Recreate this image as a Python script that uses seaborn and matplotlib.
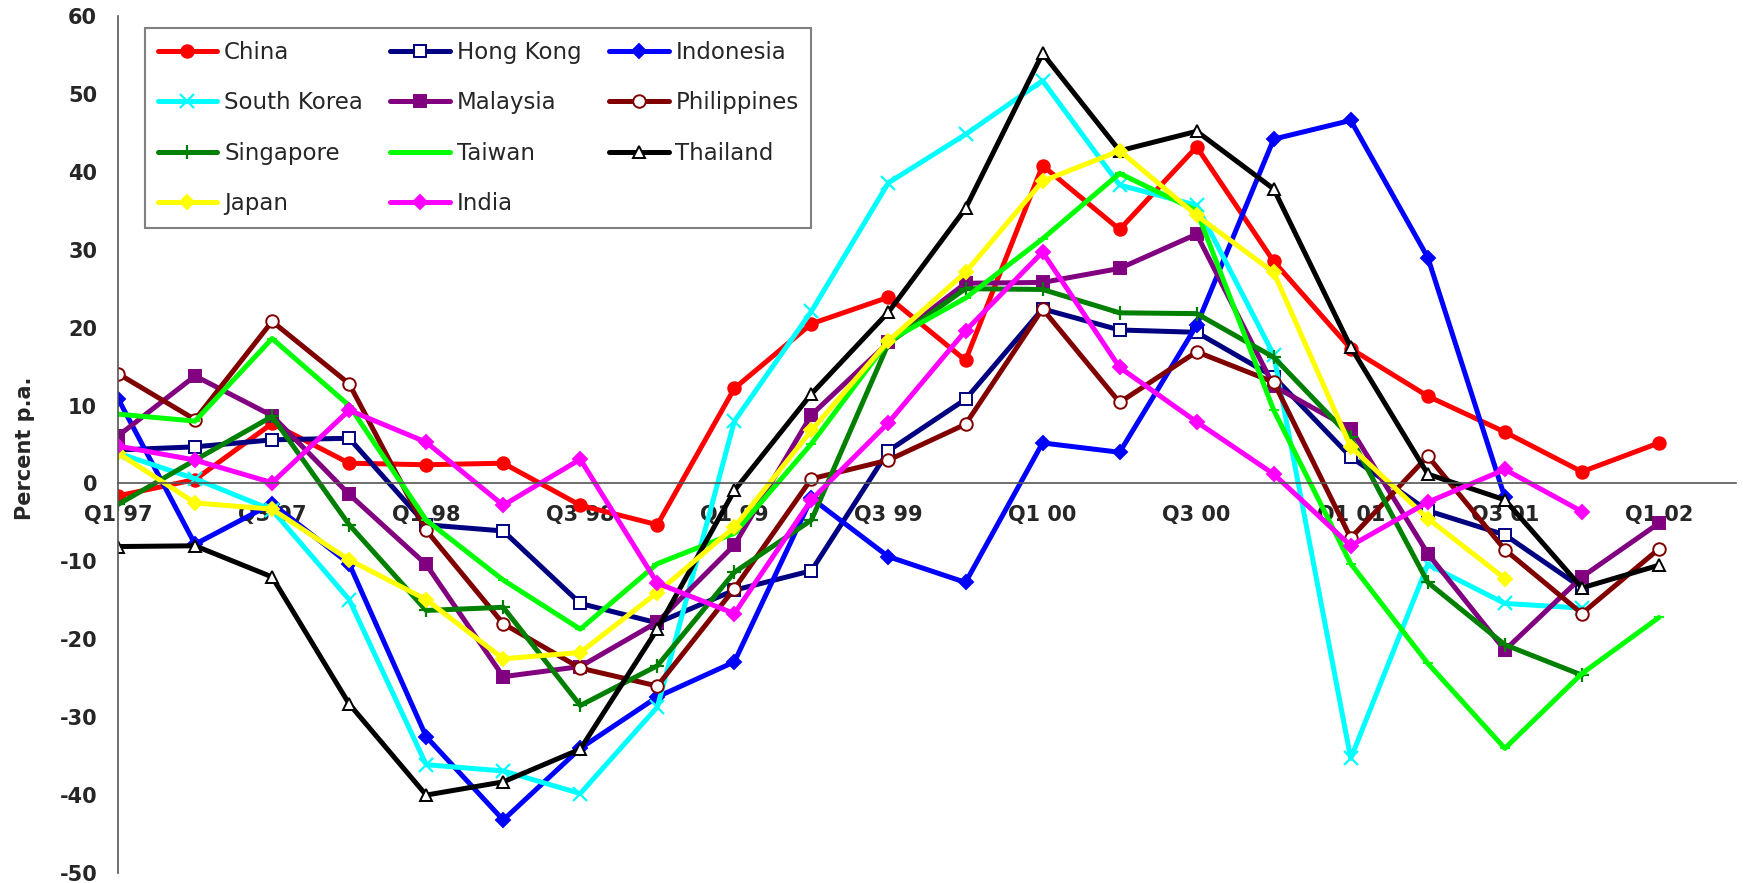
import numpy as np
import matplotlib
matplotlib.use('Agg')
import matplotlib.pyplot as plt
import seaborn as sns

# quarterly data, Q1 1997 .. Q1 2002 (percent p.a.)
quarters = ['Q1 97', 'Q2 97', 'Q3 97', 'Q4 97', 'Q1 98', 'Q2 98', 'Q3 98', 'Q4 98',
            'Q1 99', 'Q2 99', 'Q3 99', 'Q4 99', 'Q1 00', 'Q2 00', 'Q3 00', 'Q4 00',
            'Q1 01', 'Q2 01', 'Q3 01', 'Q4 01', 'Q1 02']
nan = np.nan

china = [-1.6, 0.5, 7.7, 2.6, 2.4, 2.6, -2.8, -5.3, 12.2, 20.5, 23.9, 15.8,
         40.8, 32.6, 43.2, 28.5, 17.3, 11.2, 6.6, 1.5, 5.2]
hong_kong = [4.3, 4.7, 5.6, 5.8, -5.3, -6.1, -15.4, -17.9, -13.7, -11.2, 4.2, 10.8,
             22.4, 19.7, 19.4, 13.7, 3.4, -3.5, -6.6, -13.4, nan]
indonesia = [10.9, -7.8, -2.6, -10.3, -32.5, -43.2, -34.0, -27.4, -22.9, -1.9, -9.4, -12.7,
             5.2, 4.0, 20.3, 44.2, 46.6, 29.0, -1.8, nan, nan]
south_korea = [3.9, 0.6, -3.4, -14.9, -36.1, -36.9, -39.8, -28.7, 8.0, 22.1, 38.6, 44.8,
               51.7, 38.3, 35.7, 16.5, -35.3, -10.4, -15.4, -16.0, nan]
malaysia = [6.1, 13.8, 8.7, -1.4, -10.4, -24.8, -23.5, -17.8, -7.9, 8.8, 18.1, 25.7,
            25.8, 27.6, 32.0, 12.5, 7.0, -9.0, -21.4, -12.0, -5.1]
philippines = [14.1, 8.2, 20.8, 12.8, -6.0, -18.0, -23.7, -26.0, -13.5, 0.6, 3.0, 7.6,
               22.4, 10.4, 16.9, 13.0, -7.0, 3.5, -8.5, -16.7, -8.4]
singapore = [-2.7, 3.0, 8.6, -5.3, -16.3, -15.9, -28.5, -23.4, -11.4, -4.7, 18.0, 25.0,
             24.9, 21.9, 21.8, 16.2, 5.9, -12.7, -20.7, -24.6, nan]
taiwan = [8.9, 8.0, 18.6, 10.0, -4.7, -12.4, -18.7, -10.3, -6.4, 5.1, 18.3, 23.8,
          31.4, 39.8, 35.0, 9.4, -10.3, -23.1, -34.0, -24.4, -17.2]
thailand = [-8.1, -8.0, -12.0, -28.3, -40.0, -38.3, -34.1, -18.7, -0.9, 11.5, 22.0, 35.3,
            55.2, 42.7, 45.2, 37.8, 17.5, 1.2, -2.1, -13.4, -10.5]
japan = [3.9, -2.5, -3.3, -9.8, -14.9, -22.5, -21.7, -14.0, -5.6, 6.8, 18.3, 27.1,
         38.8, 42.7, 34.4, 27.1, 4.7, -4.5, -12.2, nan, nan]
india = [4.8, 3.0, 0.1, 9.4, 5.3, -2.8, 3.1, -12.8, -16.7, -2.1, 7.8, 19.6,
         29.7, 14.9, 7.9, 1.2, -8.0, -2.4, 1.8, -3.6, nan]

# name, values, line colour, marker, marker face
series = [
    ('China', china, '#FF0000', 'o', '#FF0000'),
    ('Hong Kong', hong_kong, '#000080', 's', 'white'),
    ('Indonesia', indonesia, '#0000FF', 'D', '#0000FF'),
    ('South Korea', south_korea, '#00FFFF', 'x', '#00FFFF'),
    ('Malaysia', malaysia, '#800080', 's', '#800080'),
    ('Philippines', philippines, '#800000', 'o', 'white'),
    ('Singapore', singapore, '#008000', '+', '#008000'),
    ('Taiwan', taiwan, '#00FF00', '_', '#00FF00'),
    ('Thailand', thailand, '#000000', '^', 'white'),
    ('Japan', japan, '#FFFF00', 'D', '#FFFF00'),
    ('India', india, '#FF00FF', 'D', '#FF00FF'),
]

sns.set_style('white')
plt.rcParams['font.family'] = ['DejaVu Sans']
plt.rcParams['axes.unicode_minus'] = False

fig = plt.figure(figsize=(17.43, 8.83), dpi=100)
ax = fig.add_axes([118 / 1743, 1 - 873 / 883, 1618 / 1743, 857 / 883])

x = np.arange(len(quarters))
for name, vals, col, mk, face in series:
    ms = 9 if mk in ('o', 's', '^') else 7.5
    if mk in ('x', '+'):
        ms = 10
    sns.lineplot(x=x, y=np.array(vals), ax=ax, color=col, linewidth=3.6,
                 marker=mk, markersize=ms, markerfacecolor=face,
                 markeredgecolor=col, markeredgewidth=1.6 if mk in ('x', '+') else 1.4,
                 label=name, errorbar=None, legend=True)

ax.set_xlim(0, 21)
ax.set_ylim(-50, 60)

for s in ['top', 'right']:
    ax.spines[s].set_visible(False)
ax.spines['bottom'].set_position(('data', 0))
ax.spines['bottom'].set_color('#555555')
ax.spines['left'].set_color('#555555')
ax.spines['bottom'].set_linewidth(1.2)
ax.spines['left'].set_linewidth(1.2)

ax.set_xticks(range(22))
ax.set_xticklabels([q if i % 2 == 0 else '' for i, q in enumerate(quarters)] + [''])
ax.set_yticks(range(-50, 61, 10))
ax.tick_params(axis='x', direction='inout', length=9.5, width=1.2, color='#555555',
               pad=11, labelsize=15)
ax.tick_params(axis='y', direction='inout', length=12, width=1.2, color='#555555',
               pad=9, labelsize=15)
for lab in ax.get_xticklabels() + ax.get_yticklabels():
    lab.set_fontweight('bold')

ax.set_xlabel('')
ax.set_ylabel('Percent p.a.', fontsize=15, fontweight='bold')
ax.yaxis.set_label_coords(-0.051, 0.496)

handles, labels = ax.get_legend_handles_labels()
order = [0, 3, 6, 9, 1, 4, 7, 10, 2, 5, 8]
leg = ax.legend([handles[i] for i in order], [labels[i] for i in order],
                ncol=3, loc='upper left',
                bbox_to_anchor=(145 / 1743, 1 - 28 / 883), bbox_transform=fig.transFigure,
                borderaxespad=0, fontsize=16.5, handlelength=2.6, handletextpad=0.3,
                columnspacing=1.2, labelspacing=1.2, borderpad=0.55,
                frameon=True, fancybox=False, framealpha=1, edgecolor='#808080')
leg.get_frame().set_linewidth(1.5)

fig.savefig('out.png', dpi=100)
